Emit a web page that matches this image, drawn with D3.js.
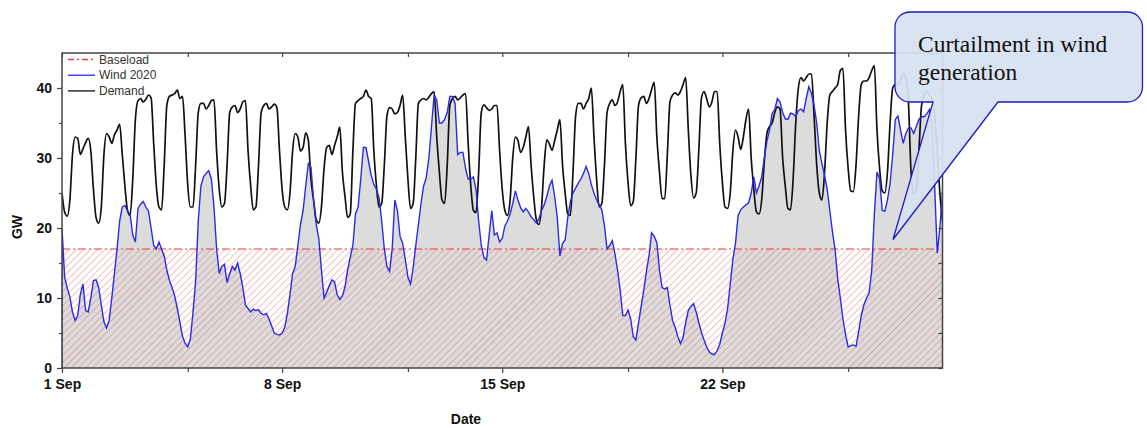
<!DOCTYPE html>
<html lang="en">
<head>
  <meta charset="UTF-8">
  <title>Wind curtailment</title>
  <style>
    body { margin: 0; background: #fff; }
    svg { display: block; font-family: Arial, "Liberation Sans", sans-serif; }
  </style>
</head>
<body>
  <script src="https://cdn.jsdelivr.net/npm/d3@7/dist/d3.min.js"></script>
  <script>
    // 2-hourly readings, 1 Sep 00:00 to 29 Sep 00:00 (one row per day)
    const startDate = Date.UTC(2012, 8, 1)
    const stepHours = 2
    const baseloadGW = 17

    const demandGW = [
      25, 22.3, 21.7, 24, 30.5, 33, 32.8, 30.5, 31.3, 32.2, 32.8, 31,
      25.5, 21.5, 20.7, 23, 30.5, 33.5, 33, 32.1, 33.3, 34, 34.8, 30.5,
      26, 22.5, 21.8, 27, 35.5, 38.2, 38.5, 38, 38.4, 39, 38.6, 32,
      26, 23, 22.6, 29, 37.5, 38.8, 39, 39.2, 39.7, 38.5, 38.8, 33,
      26, 23, 23, 29, 36.5, 37.8, 37.8, 37, 37.5, 38.2, 38.3, 31,
      25.5, 23, 23.5, 29, 36.5, 37.3, 37.5, 36.5, 37, 38, 38.2, 31,
      26, 22.6, 23, 29, 36.5, 37.5, 37.8, 37, 37.3, 37.7, 37.2, 31,
      25.5, 23, 22.6, 25, 31, 33.5, 33, 31, 31.5, 33.6, 32.5, 27,
      24, 21.2, 20.7, 23, 28.5, 31.5, 31.8, 30.5, 31.8, 33, 34.4, 28,
      24.5, 21.5, 22, 31, 37.8, 38.2, 38.5, 38.8, 39.7, 38.8, 38.5, 31,
      26, 23, 23.5, 29, 36, 37.2, 37, 36.3, 36.5, 37.5, 39, 33,
      27, 22.8, 23.5, 30, 37.8, 38.3, 38.5, 38.3, 38.7, 39.2, 39.5, 33,
      28, 24, 23.5, 29, 37.5, 38.5, 38.8, 38.3, 38.6, 39, 39.2, 32,
      26, 22.5, 22.2, 28, 36.5, 37.6, 37.2, 36.8, 37, 37.5, 37.5, 31,
      25.5, 22.5, 21.8, 24, 30, 33, 32.5, 30.8, 31.5, 33, 34.5, 29,
      24.5, 21.2, 20.5, 23, 29, 32.6, 32, 31.1, 32.5, 34, 35.5, 29,
      25, 22, 21.8, 28, 36, 37.8, 37.8, 37, 37.8, 38.5, 40, 33,
      27, 23, 23.5, 29, 36.5, 37.8, 38.3, 37.5, 38, 39.5, 40.5, 32,
      26.5, 23.2, 23.8, 30, 37.5, 38.6, 38.8, 37.8, 38.5, 39.8, 40.8, 33,
      28, 24.2, 24.2, 30.5, 38, 39, 39.3, 39, 39.5, 40.5, 41.5, 34,
      27.5, 24.3, 25, 31, 38.5, 39.5, 38.5, 37.3, 38, 39.5, 39.5, 32,
      26.5, 23, 22.8, 25, 31, 34, 33, 31.2, 33, 35.5, 37, 30,
      25.5, 22.3, 22, 24, 29.5, 33.5, 34.5, 35, 36.5, 37.3, 37, 30,
      26, 22.8, 22.6, 27, 35, 40, 41.5, 41, 41.5, 42, 42, 36,
      29, 25, 24, 28, 35, 39, 39.5, 40, 40.5, 42.5, 42.8, 34,
      28.5, 25.3, 25.2, 29, 36, 40.5, 41, 41, 41.5, 42.5, 43.2, 34,
      28.5, 25.3, 25, 28, 35, 40, 40.5, 40.5, 41, 42, 41.5, 38,
      28, 25, 25.3, 31, 37.5, 39, 39.5, 39, 38.5, 36, 31, 25,
      21
    ]

    const windGW = [
      20, 13, 11.4, 10.2, 8, 6.8, 7.5, 10.5, 12, 8.2, 8, 10,
      12.5, 12.6, 11.5, 9, 6.6, 5.7, 6.8, 10, 13.5, 17, 21, 23,
      23.2, 22.5, 21.9, 19, 18, 22.8, 23.4, 23.8, 23, 22.4, 20, 17.5,
      17, 18, 17, 16, 14, 12.5, 11.5, 10.3, 8.5, 6.5, 4.5, 3.5,
      3, 4.2, 8, 12.5, 21, 26, 27.3, 27.8, 28.2, 27, 23, 17,
      13.5, 14.5, 14.8, 12.2, 13.5, 14.5, 14, 15, 13.5, 11.5, 9, 8.5,
      8, 8.4, 8.2, 8.3, 7.8, 7.6, 7.8, 7, 6, 5, 4.8, 4.7,
      5, 5.8, 7.8, 10.5, 13.5, 14.5, 17.5, 20.5, 22.5, 26, 29.2, 28.7,
      24, 20.5, 18.5, 14, 10, 10.8, 11.8, 12.6, 12.3, 10.5, 9.8, 10.3,
      11.6, 14, 15.8, 17.5, 22, 23, 27, 31.5, 31.5, 29.5, 27.5, 26.2,
      25.5, 24.3, 21, 17, 14.5, 13.8, 17, 24, 22.5, 18.8, 17.8, 15.5,
      13, 12, 14.3, 17.5, 20.5, 23.5, 26, 27.2, 30, 34.5, 39, 38.3,
      35, 35, 35.5, 36.5, 38.8, 38.8, 37.8, 30.5, 30.8, 30.8, 28.5, 27,
      27, 27.3, 25.5, 21, 17.5, 15.8, 15.4, 19, 22.5, 19, 19.3, 18,
      18.5, 20.3, 21, 22, 23.5, 25.3, 24, 22.9, 22.3, 22.8, 22.3, 21.6,
      21.2, 20.7, 21.3, 22.5, 23.3, 24.5, 26, 26.8, 24.5, 21.5, 16, 17.8,
      18.3, 21.5, 23.8, 25, 25.7, 26.4, 27, 27.8, 28.8, 27.8, 26.2, 25,
      24, 23.3, 22.6, 20.3, 17, 17.5, 18.2, 16.3, 14, 11.1, 7.5, 7.5,
      8.3, 7, 4.5, 4, 6.4, 8.8, 11.1, 13.8, 16, 19.3, 18.8, 17.9,
      14, 11.5, 11.3, 11.5, 9, 6.8, 5.8, 4.5, 3.5, 4.3, 6.5, 8.2,
      8.8, 9.2, 8, 6.5, 5.1, 4, 3, 2.3, 2, 1.9, 2.5, 3.4,
      5, 6.4, 8.5, 12, 15.5, 17.8, 21.8, 22.6, 23, 23.3, 23.6, 25,
      27.3, 25, 26, 27.3, 30, 32.4, 34, 36.4, 36.9, 38.5, 38, 36.5,
      35.6, 35.5, 36.4, 36.3, 35.9, 36.8, 37, 36.6, 38.5, 40.2, 39.2, 37.5,
      35, 31, 29.2, 27.5, 25.5, 22.5, 19.5, 16.9, 12.8, 10, 7, 4.8,
      3, 3.2, 3.3, 3.1, 5.2, 7.5, 9, 10, 10.7, 14, 22, 28,
      27, 22.5, 22.4, 24, 26.4, 30.5, 35.5, 36, 34, 32.1, 33.5, 34.3,
      34.3, 33.5, 34.5, 35.5, 35.9, 35.9, 36.3, 36.9, 35, 26, 16.4, 20,
      25
    ]

    const majorTickDates = ['2012-09-01', '2012-09-08', '2012-09-15', '2012-09-22']
    const minorTickDates = ['2012-09-05', '2012-09-12', '2012-09-19', '2012-09-26']
    const endDate = '2012-09-29'
    const yMajorTicks = [0, 10, 20, 30, 40]
    const yMinorTicks = [5, 15, 25, 35]
    const legendLabels = ['Baseload', 'Wind 2020', 'Demand']
    const calloutLines = ['Curtailment in wind', 'generation']

    const width = 1147
    const height = 428
    const plot = { left: 62, right: 942.5, top: 53, bottom: 368 }

    const parse = d3.utcParse('%Y-%m-%d')
    const times = demandGW.map((d, i) => new Date(startDate + i * stepHours * 3600e3))

    const x = d3.scaleUtc()
      .domain([parse(majorTickDates[0]), parse(endDate)])
      .range([plot.left, plot.right])
    const y = d3.scaleLinear()
      .domain([0, 45])
      .range([plot.bottom, plot.top])

    const svg = d3.select('body').append('svg')
      .attr('width', width)
      .attr('height', height)

    const defs = svg.append('defs')
    defs.append('clipPath').attr('id', 'plotClip')
      .append('rect')
      .attr('x', plot.left).attr('y', plot.top)
      .attr('width', plot.right - plot.left).attr('height', plot.bottom - plot.top)

    const hatch = defs.append('pattern')
      .attr('id', 'hatch')
      .attr('patternUnits', 'userSpaceOnUse')
      .attr('width', 5).attr('height', 5)
      .attr('patternTransform', 'rotate(45)')
    hatch.append('line')
      .attr('x1', 0).attr('y1', 0).attr('x2', 0).attr('y2', 5)
      .attr('stroke', '#e05050').attr('stroke-opacity', 0.75).attr('stroke-width', 1)

    const g = svg.append('g').attr('clip-path', 'url(#plotClip)')

    const windPts = windGW.map((v, i) => [times[i], v])
    const demandPts = demandGW.map((v, i) => [times[i], v])

    // gray area under the wind curve
    g.append('path')
      .attr('d', d3.area().x(d => x(d[0])).y0(y(0)).y1(d => y(d[1]))(windPts))
      .attr('fill', '#dcdcdc')

    // hatched baseload band
    g.append('path')
      .attr('d', d3.area().x(d => x(d)).y0(y(0)).y1(y(baseloadGW))([times[0], times[times.length - 1]]))
      .attr('fill', 'url(#hatch)')

    g.append('line')
      .attr('x1', x(times[0])).attr('x2', x(times[times.length - 1]))
      .attr('y1', y(baseloadGW)).attr('y2', y(baseloadGW))
      .attr('stroke', '#e23c3c').attr('stroke-width', 1.2)
      .attr('stroke-dasharray', '8,3,2,3')

    g.append('path')
      .attr('d', d3.line().x(d => x(d[0])).y(d => y(d[1])).curve(d3.curveMonotoneX)(demandPts))
      .attr('fill', 'none').attr('stroke', '#111').attr('stroke-width', 1.7)

    // wind outline starts at the zero line, like the filled area edge
    g.append('path')
      .attr('d', d3.line().x(d => x(d[0])).y(d => y(d[1]))([[times[0], 0]].concat(windPts)))
      .attr('fill', 'none').attr('stroke', '#2a2ae6').attr('stroke-width', 1.4)

    // axes
    const fmt = d3.utcFormat('%-d %b')
    const styleAxis = sel => {
      sel.select('.domain').remove()
      sel.selectAll('line').attr('stroke', '#444').attr('stroke-width', 1.2)
      sel.selectAll('text')
        .attr('font-size', 14).attr('font-weight', 'bold')
        .attr('font-family', 'Arial, "Liberation Sans", sans-serif').attr('fill', '#111')
    }

    svg.append('g').attr('transform', `translate(0,${plot.bottom})`)
      .call(d3.axisBottom(x).tickValues(majorTickDates.map(parse)).tickFormat(fmt).tickSize(5).tickPadding(6.5))
      .call(styleAxis)
    svg.append('g').attr('transform', `translate(0,${plot.bottom})`)
      .call(d3.axisBottom(x).tickValues(minorTickDates.map(parse)).tickFormat('').tickSize(4))
      .call(styleAxis)
    svg.append('g').attr('transform', `translate(0,${plot.top})`)
      .call(d3.axisTop(x).tickValues(majorTickDates.concat(minorTickDates).map(parse)).tickFormat('').tickSize(-4))
      .call(styleAxis)

    svg.append('g').attr('transform', `translate(${plot.left},0)`)
      .call(d3.axisLeft(y).tickValues(yMajorTicks).tickSize(5).tickPadding(5))
      .call(styleAxis)
    svg.append('g').attr('transform', `translate(${plot.left},0)`)
      .call(d3.axisLeft(y).tickValues(yMinorTicks).tickFormat('').tickSize(3))
      .call(styleAxis)
    svg.append('g').attr('transform', `translate(${plot.right},0)`)
      .call(d3.axisRight(y).tickValues(yMajorTicks.concat(yMinorTicks)).tickFormat('').tickSize(-4))
      .call(styleAxis)

    svg.append('rect')
      .attr('x', plot.left).attr('y', plot.top)
      .attr('width', plot.right - plot.left).attr('height', plot.bottom - plot.top)
      .attr('fill', 'none').attr('stroke', '#444').attr('stroke-width', 1.5)

    svg.append('text')
      .attr('transform', 'translate(22,227) rotate(-90)')
      .attr('text-anchor', 'middle')
      .attr('font-size', 14).attr('font-weight', 'bold').attr('fill', '#111')
      .text('GW')
    svg.append('text')
      .attr('x', 466).attr('y', 424)
      .attr('text-anchor', 'middle')
      .attr('font-size', 14).attr('font-weight', 'bold').attr('fill', '#111')
      .text('Date')

    // legend
    const legendStyles = [
      { stroke: '#e23c3c', dash: '6,3,2,3' },
      { stroke: '#2a2ae6', dash: null },
      { stroke: '#111', dash: null }
    ]
    const legend = svg.append('g')
      .selectAll('g')
      .data(legendLabels)
      .enter()
      .append('g')
      .attr('transform', (d, i) => `translate(68,${59.5 + i * 15.7})`)
    legend.append('line')
      .attr('x1', 0).attr('x2', 27)
      .attr('stroke', (d, i) => legendStyles[i].stroke)
      .attr('stroke-width', 1.3)
      .attr('stroke-dasharray', (d, i) => legendStyles[i].dash)
    legend.append('text')
      .attr('x', 31).attr('dy', '0.35em')
      .attr('font-size', 12).attr('fill', '#333')
      .text(d => d)

    // callout
    const box = { x0: 895, y0: 12, x1: 1142.5, y1: 102, r: 15 }
    const tip = [893, 239.5]
    const p = d3.path()
    p.moveTo(box.x0 + box.r, box.y0)
    p.lineTo(box.x1 - box.r, box.y0)
    p.arcTo(box.x1, box.y0, box.x1, box.y0 + box.r, box.r)
    p.lineTo(box.x1, box.y1 - box.r)
    p.arcTo(box.x1, box.y1, box.x1 - box.r, box.y1, box.r)
    p.lineTo(998, box.y1)
    p.lineTo(tip[0], tip[1])
    p.lineTo(933, box.y1)
    p.lineTo(box.x0 + box.r, box.y1)
    p.arcTo(box.x0, box.y1, box.x0, box.y1 - box.r, box.r)
    p.lineTo(box.x0, box.y0 + box.r)
    p.arcTo(box.x0, box.y0, box.x0 + box.r, box.y0, box.r)
    p.closePath()
    svg.append('path')
      .attr('d', p.toString())
      .attr('fill', '#d6e1f0').attr('fill-opacity', 0.93)
      .attr('stroke', '#1c1cc4').attr('stroke-width', 1.3)

    svg.append('text')
      .attr('font-family', '"Liberation Serif", "Times New Roman", serif')
      .attr('font-size', 23.5).attr('fill', '#111')
      .selectAll('tspan')
      .data(calloutLines)
      .enter()
      .append('tspan')
      .attr('x', 918)
      .attr('y', (d, i) => 52 + i * 28)
      .text(d => d)
  </script>
</body>
</html>
